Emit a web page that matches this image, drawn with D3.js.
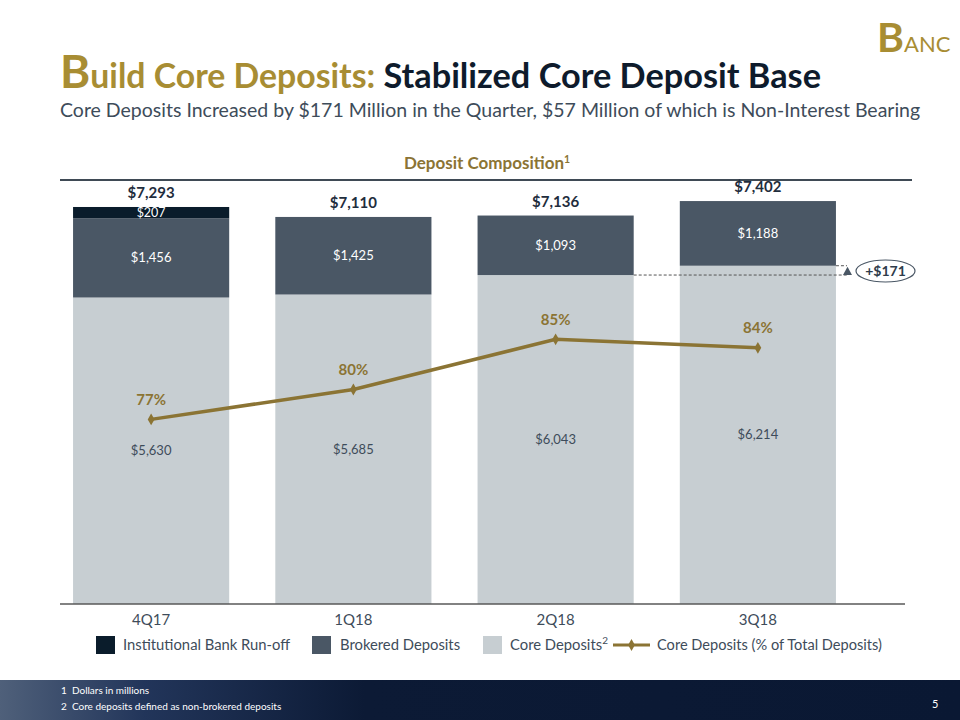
<!DOCTYPE html>
<html><head><meta charset="utf-8">
<script src="https://cdn.jsdelivr.net/npm/d3@7"></script>
<style>body{margin:0;background:#fff}svg{display:block}text{font-family:Lato,'Open Sans',sans-serif}</style>
</head><body><svg id="c" width="960" height="720"></svg>
<script>
const categories = ["4Q17","1Q18","2Q18","3Q18"];
const coreDeposits = [5630,5685,6043,6214];
const brokeredDeposits = [1456,1425,1093,1188];
const institutionalRunoff = [207,0,0,0];
const totals = [7293,7110,7136,7402];
const corePct = [77.2,80.0,84.7,83.9];
const pctLabels = ["77%","80%","85%","84%"];
const legendLabels = ["Institutional Bank Run-off","Brokered Deposits","Core Deposits","Core Deposits (% of Total Deposits)"];

const C = {inst:"#0a1c2b", brok:"#4a5765", core:"#c7ced2", gold:"#8b7434", title:"#a88d33", navy:"#0e1b2c", gray:"#3e4c5a"};
const svg = d3.select("#c");
const fmt = v => "$" + d3.format(",")(v);

// Title
const t = svg.append("text").attr("x",60).attr("y",88).attr("font-weight","bold");
t.append("tspan").attr("fill",C.title).attr("font-size",46).text("B");
t.append("tspan").attr("fill",C.title).attr("font-size",33.8).text("uild Core Deposits: ");
t.append("tspan").attr("fill",C.navy).attr("font-size",34.3).text("Stabilized Core Deposit Base");
svg.append("text").attr("x",60).attr("y",117).attr("font-size",19.5).attr("fill",C.gray)
  .text("Core Deposits Increased by $171 Million in the Quarter, $57 Million of which is Non-Interest Bearing");
// logo
const lg = svg.append("text").attr("x",877).attr("y",52).attr("fill",C.title).attr("font-weight","bold");
lg.append("tspan").attr("font-size",41).text("B");
lg.append("tspan").attr("font-size",22).attr("font-weight","normal").text("ANC");

// chart header
const h = svg.append("text").attr("x",487).attr("y",169).attr("text-anchor","middle").attr("font-size",17).attr("font-weight","bold").attr("fill",C.gold);
h.append("tspan").text("Deposit Composition");
h.append("tspan").attr("font-size",10.5).attr("dy",-6).text("1");
svg.append("line").attr("x1",60).attr("x2",912).attr("y1",180).attr("y2",180).attr("stroke","#3f4a55").attr("stroke-width",2);

const x = d3.scaleBand().domain(categories).range([50,859]).paddingInner(0.228).paddingOuter(0.114);
const y = d3.scaleLinear().domain([0,8000]).range([604,168.5]);
const yp = d3.scaleLinear().domain([60,100]).range([603,176]);

const rows = categories.map((c,i)=>({c,i,core:coreDeposits[i],brok:brokeredDeposits[i],inst:institutionalRunoff[i],total:totals[i]}));
const segs = [];
rows.forEach(r=>{
  segs.push({c:r.c,y0:0,y1:r.core,v:r.core,fill:C.core,tc:C.gray,fs:13});
  segs.push({c:r.c,y0:r.core,y1:r.core+r.brok,v:r.brok,fill:C.brok,tc:"#fff",fs:13});
  if(r.inst>0) segs.push({c:r.c,y0:r.core+r.brok,y1:r.core+r.brok+r.inst,v:r.inst,fill:C.inst,tc:"#fff",fs:12.5});
});
svg.append("g").selectAll("rect").data(segs).join("rect")
  .attr("x",d=>x(d.c)).attr("width",x.bandwidth())
  .attr("y",d=>y(d.y1)).attr("height",d=>y(d.y0)-y(d.y1)).attr("fill",d=>d.fill);
svg.append("g").selectAll("text").data(segs).join("text")
  .attr("x",d=>x(d.c)+x.bandwidth()/2).attr("y",d=>(y(d.y0)+y(d.y1))/2)
  .attr("dy","0.35em").attr("text-anchor","middle").attr("font-size",d=>d.fs).attr("fill",d=>d.tc).text(d=>fmt(d.v));
svg.append("g").selectAll("text").data(rows).join("text")
  .attr("x",d=>x(d.c)+x.bandwidth()/2).attr("y",d=>y(d.total)-14)
  .attr("dy","0.35em").attr("text-anchor","middle").attr("font-size",15).attr("font-weight","bold").attr("fill","#1f2d3d").text(d=>fmt(d.total));

// axis
const ax = svg.append("g").attr("transform","translate(0,604)").call(d3.axisBottom(x).tickSize(0).tickPadding(10));
ax.select(".domain").remove();
ax.selectAll("text").attr("font-size",15).attr("fill",C.gray).attr("font-family","Lato,'Open Sans',sans-serif");
svg.append("line").attr("x1",60).attr("x2",905).attr("y1",604).attr("y2",604).attr("stroke","#595959").attr("stroke-width",1.5);

// dashed annotation
const x3 = x(categories[3]), x2 = x(categories[2]);
svg.append("line").attr("x1",x2+x.bandwidth()).attr("x2",847).attr("y1",y(coreDeposits[2])).attr("y2",y(coreDeposits[2]))
  .attr("stroke","#555").attr("stroke-width",1).attr("stroke-dasharray","3,2");
svg.append("line").attr("x1",x3+x.bandwidth()).attr("x2",847).attr("y1",y(coreDeposits[3])).attr("y2",y(coreDeposits[3]))
  .attr("stroke","#555").attr("stroke-width",1).attr("stroke-dasharray","3,2");
const ya = y(coreDeposits[3]), yb = y(coreDeposits[2]);
svg.append("path").attr("d",`M843,${yb} L852,${yb} L847.5,${ya+1} Z`).attr("fill","#4a5765");
svg.append("ellipse").attr("cx",885.5).attr("cy",271).attr("rx",29.5).attr("ry",11).attr("fill","#fff").attr("stroke","#4a5765").attr("stroke-width",1.2);
svg.append("text").attr("x",885.5).attr("y",271).attr("dy","0.35em").attr("text-anchor","middle").attr("font-size",14).attr("font-weight","bold").attr("fill","#2e3c4b")
  .text("+" + fmt(coreDeposits[3]-coreDeposits[2]));

// line
const pts = categories.map((c,i)=>({c,v:corePct[i],l:pctLabels[i]}));
svg.append("path").datum(pts).attr("fill","none").attr("stroke",C.gold).attr("stroke-width",3.5)
  .attr("d",d3.line().x(d=>x(d.c)+x.bandwidth()/2).y(d=>yp(d.v)));
svg.append("g").selectAll("path").data(pts).join("path")
  .attr("transform",d=>`translate(${x(d.c)+x.bandwidth()/2},${yp(d.v)})`)
  .attr("d",d3.symbol(d3.symbolDiamond,40)).attr("fill",C.gold);
svg.append("g").selectAll("text").data(pts).join("text")
  .attr("x",d=>x(d.c)+x.bandwidth()/2).attr("y",d=>yp(d.v)-20).attr("dy","0.35em")
  .attr("text-anchor","middle").attr("font-size",15).attr("font-weight","bold").attr("fill",C.gold).text(d=>d.l);

// legend
const lgY = 645;
const L = svg.append("g");
[[96,C.inst,123],[312,C.brok,340],[483,C.core,510]].forEach((p,i)=>{
  L.append("rect").attr("x",p[0]).attr("y",lgY-9).attr("width",19).attr("height",18).attr("fill",p[1]);
  const tx = L.append("text").attr("x",p[2]).attr("y",lgY).attr("dy","0.35em").attr("font-size",14.8).attr("fill",C.gray).text(legendLabels[i]);
  if(i===2) tx.append("tspan").attr("font-size",10).attr("dy",-6).text("2");
});
L.append("line").attr("x1",613).attr("x2",650).attr("y1",lgY).attr("y2",lgY).attr("stroke",C.gold).attr("stroke-width",3);
L.append("path").attr("transform",`translate(631.5,${lgY})`).attr("d",d3.symbol(d3.symbolDiamond,40)).attr("fill",C.gold);
L.append("text").attr("x",657).attr("y",lgY).attr("dy","0.35em").attr("font-size",14.6).attr("fill",C.gray).text(legendLabels[3]);

// footer
const defs = svg.append("defs");
const gr = defs.append("linearGradient").attr("id","fg").attr("x1","0").attr("x2","1").attr("y1","0").attr("y2","0");
gr.append("stop").attr("offset","0").attr("stop-color","#4f607a");
gr.append("stop").attr("offset","0.15").attr("stop-color","#22355a");
gr.append("stop").attr("offset","0.38").attr("stop-color","#0c1a35");
gr.append("stop").attr("offset","1").attr("stop-color","#0a1833");
svg.append("rect").attr("x",0).attr("y",680).attr("width",960).attr("height",40).attr("fill","url(#fg)");
svg.append("text").attr("x",61).attr("y",694).attr("font-size",10).attr("fill","#fff").attr("xml:space","preserve").text("1  Dollars in millions");
svg.append("text").attr("x",61).attr("y",710).attr("font-size",10).attr("fill","#fff").attr("xml:space","preserve").text("2  Core deposits defined as non-brokered deposits");
svg.append("text").attr("x",932).attr("y",708).attr("font-size",11).attr("fill","#fff").text("5");
</script></body></html>
